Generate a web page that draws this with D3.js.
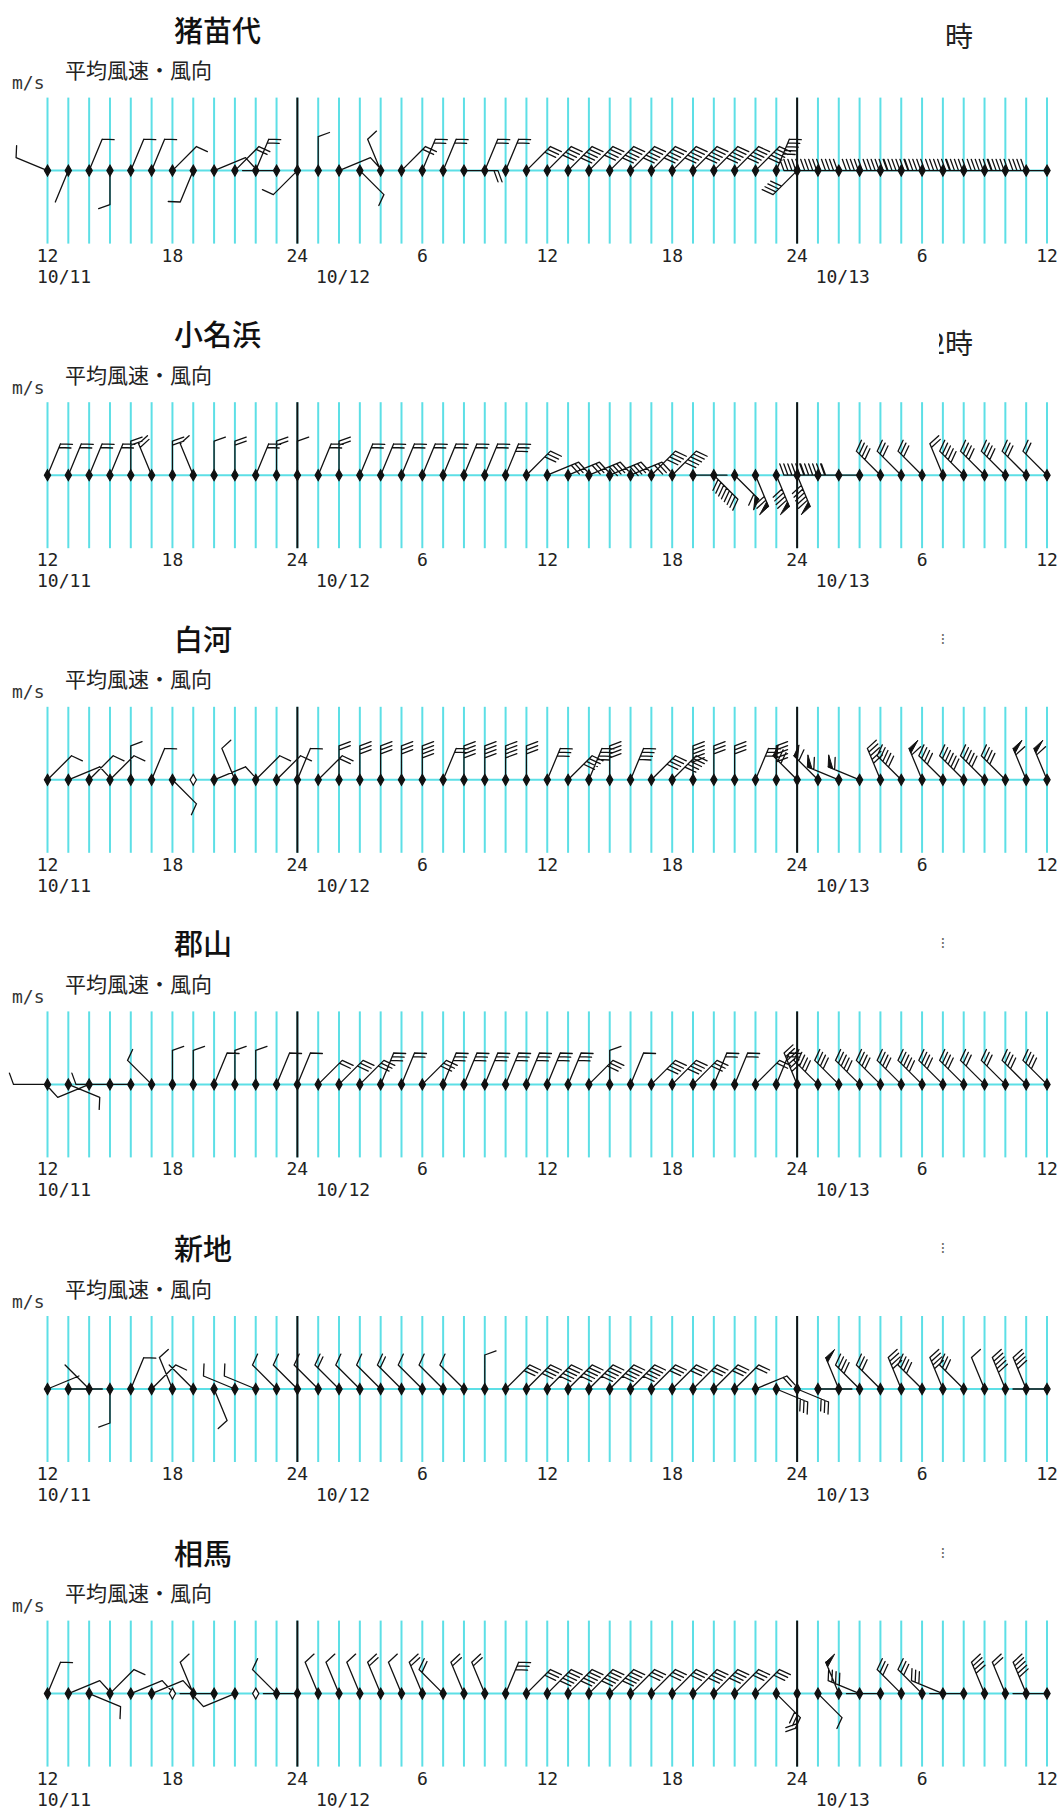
<!DOCTYPE html>
<html><head><meta charset="utf-8">
<script src="https://cdn.jsdelivr.net/npm/d3@7"></script>
<style>html,body{margin:0;padding:0;background:#fff}</style>
</head><body><svg id="chart" width="1062" height="1809"></svg>
<script>
// ---------------- data ----------------
const stations = ["猪苗代","小名浜","白河","郡山","新地","相馬"];
const cornerTexts = ["時","2時","⁝","⁝","⁝","⁝"];
const subTitle = "平均風速・風向";
const unitLabel = "m/s";
const tickHours = [0,6,12,18,24,30,36,42,48];
const tickLabels = ["12","18","24","6","12","18","24","6","12"];
const dayHours = [0,12,36];
const dayLabels = ["10/11","10/12","10/13"];
const midnightHours = [12,36];

// wind direction (16-point, direction wind blows from; "C" = calm) and speed (feathers; 10 = pennant), hourly from 10/11 12時
const dirInawashiro = ["WNW","SSW","NNE","S","NNE","NNE","NE","SSW","ENE","NE","NNE","W","SW","N","ENE","SE","NNW","NE","NNE","NNE","E","NNE","NNE","NE",
  "NE","NE","NE","NE","NE","NE","NE","NE","NE","NE","NE","NNE",
  "SW","W","W","W","W","W","W","W","W","W","W","W","W"];
const spdInawashiro = [1,0,1,1,1,1,1,1,1,2,2,0,1,1,1,1,1,2,2,2,2,2,2,3, 4,5,4,5,5,5,5,5,5,5,5,5, 4,5,5,4,5,6,6,5,6,5,6,5,4];

const dirOnahama = ["NNE","NNE","NNE","NNE","N","NNW","N","NNW","N","N","NNE","N","N","NNE","N","NNE","NNE","NNE","NNE","NNE","NNE","NNE","NNE","NE",
  "ENE","ENE","ENE","ENE","ENE","NE","NE","E","SE","SE","SSE","SSE",
  "SSE","W","W","W","NW","NW","NW","NNW","NW","NW","NW","NW","NW"];
const spdOnahama = [2,2,2,2,2,2,2,1,1,2,2,2,1,2,2,2,2,2,2,2,2,2,3,3, 3,3,4,4,3,4,5,0,8,11,12,14, 15,6,6,1,4,3,3,2,5,4,4,3,2];

const dirShirakawa = ["NE","ENE","NE","NE","N","NNE","SE","C","ENE","NNW","NE","NE","NNE","NE","N","N","N","N","N","NNE","N","N","N","N",
  "NNE","NE","NNE","N","NNE","NE","NE","N","N","N","NNE","N",
  "NW","NW","WNW","WNW","NNW","NW","NNW","NW","NW","NW","NW","NNW","NNW"];
const spdShirakawa = [1,1,1,1,1,1,1,0,1,1,1,1,1,2,2,3,3,3,4,2,4,4,4,3, 3,4,4,4,4,4,5,5,3,3,3,5, 12,11,11,11,5,5,11,4,6,5,4,11,11];

const dirKoriyama = ["W","ESE","WSW","W","W","NW","N","N","NNE","N","N","NNE","NNE","NE","NE","NE","NNE","NNE","NE","NNE","NNE","NNE","NNE","NNE",
  "NNE","NNE","NE","N","NNE","NE","NE","NE","NNE","NNE","NE","NNE",
  "NNW","NW","NW","NW","NW","NW","NW","NW","NW","NW","NW","NW","NW"];
const spdKoriyama = [1,1,1,1,0,1,1,1,1,1,1,1,1,2,3,3,3,2,3,3,3,3,3,3, 3,3,3,1,1,4,4,3,2,2,2,2, 6,5,4,5,4,4,5,4,4,3,3,4,4];

const dirShinchi = ["ENE","E","NW","S","NNE","NE","NNW","NW","SSE","WNW","WNW","NW","NW","NW","NW","NW","NW","NW","NW","NW","NW","N","NE","NE",
  "NE","NE","NE","NE","NE","NE","NE","NE","NE","NE","ENE","ESE",
  "ESE","E","NNW","NW","NW","NNW","NW","NNW","NW","NNW","NNW","NNW","W"];
const spdShinchi = [0,0,0,1,1,1,1,0,1,1,1,1,1,1,2,1,1,2,1,1,1,1,3,4, 5,5,5,5,5,3,3,3,3,2,2,3, 3,0,10,4,3,4,4,4,3,1,5,4,0];

const dirSoma = ["NNE","ENE","ESE","NE","ENE","ENE","C","NNW","W","WSW","C","NW","W","NNW","NNW","NNW","NNW","NNW","NNW","NW","NNW","NNW","NNE","NE",
  "NE","NE","NE","NE","NE","NE","NE","NE","NE","NE","NE","SE",
  "S","SE","NNW","WNW","W","NW","NW","WNW","W","NNW","NNW","NNW","W"];
const spdSoma = [1,1,1,1,1,1,0,1,0,1,0,1,0,1,1,1,2,1,2,2,2,2,3,3, 5,5,5,5,3,3,3,4,4,3,3,3, 2,1,10,4,0,3,3,3,0,4,2,5,0];

const windDirs = [dirInawashiro, dirOnahama, dirShirakawa, dirKoriyama, dirShinchi, dirSoma];
const windSpds = [spdInawashiro, spdOnahama, spdShirakawa, spdKoriyama, spdShinchi, spdSoma];
const compass = ["N","NNE","NE","ENE","E","ESE","SE","SSE","S","SSW","SW","WSW","W","WNW","NW","NNW"];

// ---------------- drawing ----------------
const svg = d3.select("#chart");
svg.append("rect").attr("width",1062).attr("height",1809).attr("fill","#fff");
const defs = svg.append("defs");

const x = d3.scaleLinear().domain([0,48]).range([47.5,1047]);
const panelY = d3.scaleLinear().domain([0,5]).range([170.6, 170.6+5*304.6]);
const angle = d3.scaleOrdinal().domain(compass).range(compass.map((c,i)=>i*22.5));

const CYAN = "#5ddfe6";
const L = 34, F = 12, GAP = 4, PW = 5, ALPHA = 70;

function barb(x0,y0,dirDeg,spd){
  const t = dirDeg*Math.PI/180;
  const ux = Math.sin(t), uy = -Math.cos(t);
  const a = (dirDeg+ALPHA)*Math.PI/180;
  const fx = Math.sin(a), fy = -Math.cos(a);
  const tx = x0+ux*L, ty = y0+uy*L;
  let line = `M${x0},${y0}L${tx},${ty}`;
  let tri = "";
  let s = 0, n = spd;
  while(n >= 10){
    const p1x = tx-ux*s, p1y = ty-uy*s;
    const p3x = tx-ux*(s+PW), p3y = ty-uy*(s+PW);
    tri += `M${p1x},${p1y}L${p1x+fx*F},${p1y+fy*F}L${p3x},${p3y}Z`;
    s += PW+2; n -= 10;
  }
  for(let k=0;k<n;k++){
    const px = tx-ux*s, py = ty-uy*s;
    line += `M${px},${py}L${px+fx*F},${py+fy*F}`;
    s += GAP;
  }
  return {line, tri};
}

stations.forEach((name,i)=>{
  const Y = panelY(i);
  const g = svg.append("g");
  const hours = windDirs[i].map((d,k)=>k);

  // titles
  g.append("text").attr("x",174).attr("y",Y-142).attr("dominant-baseline","central")
    .attr("font-family","'Noto Sans CJK JP'").attr("font-size",29).attr("font-weight",500)
    .attr("fill","#111").text(name);
  if(i < 2){
    const cid = "clipc"+i;
    defs.append("clipPath").attr("id",cid).append("rect")
      .attr("x",939).attr("y",Y-170).attr("width",60).attr("height",60);
    g.append("text").attr("x",973).attr("y",i===0 ? Y-136 : Y-133).attr("dominant-baseline","central")
      .attr("text-anchor","end").attr("clip-path",`url(#${cid})`)
      .attr("font-family","'Noto Sans CJK JP'").attr("font-size",28).attr("fill","#222")
      .text(cornerTexts[i]);
  } else {
    g.append("text").attr("x",943).attr("y",Y-140).attr("dominant-baseline","central")
      .attr("text-anchor","middle")
      .attr("font-family","'DejaVu Sans'").attr("font-size",15).attr("fill","#666")
      .text(cornerTexts[i]);
  }
  g.append("text").attr("x",65).attr("y",Y-101.5).attr("dominant-baseline","central")
    .attr("font-family","'Noto Sans CJK JP'").attr("font-size",21).attr("fill","#222")
    .text(subTitle);
  g.append("text").attr("x",12).attr("y",Y-88).attr("dominant-baseline","central")
    .attr("font-family","'DejaVu Sans Mono'").attr("font-size",18).attr("fill","#333")
    .text(unitLabel);

  // grid
  g.selectAll("line.v").data(hours).enter().append("line")
    .attr("x1",d=>x(d)).attr("x2",d=>x(d)).attr("y1",Y-73).attr("y2",Y+73)
    .attr("stroke",CYAN).attr("stroke-width",2);
  g.append("line").attr("x1",x(0)).attr("x2",x(48)).attr("y1",Y).attr("y2",Y)
    .attr("stroke",CYAN).attr("stroke-width",2);
  g.selectAll("line.m").data(midnightHours).enter().append("line")
    .attr("x1",d=>x(d)).attr("x2",d=>x(d)).attr("y1",Y-73).attr("y2",Y+73)
    .attr("stroke","#111").attr("stroke-width",2);

  // axis labels
  g.selectAll("text.tick").data(tickHours).enter().append("text")
    .attr("x",d=>x(d)).attr("y",Y+91).attr("text-anchor","middle")
    .attr("font-family","'DejaVu Sans Mono'").attr("font-size",18).attr("fill","#222")
    .text((d,k)=>tickLabels[k]);
  g.selectAll("text.day").data(dayHours).enter().append("text")
    .attr("x",d=> d===0 ? x(d)-10.5 : x(d)+18.5).attr("y",Y+112)
    .attr("font-family","'DejaVu Sans Mono'").attr("font-size",18).attr("fill","#222")
    .text((d,k)=>dayLabels[k]);

  // barbs
  let lines = "", tris = "";
  hours.forEach(k=>{
    const d = windDirs[i][k];
    if(d === "C") return;
    const b = barb(x(k), Y, angle(d), windSpds[i][k]);
    lines += b.line; tris += b.tri;
  });
  g.append("path").attr("d",lines).attr("fill","none").attr("stroke","#111")
    .attr("stroke-width",1.3).attr("stroke-linecap","round");
  g.append("path").attr("d",tris).attr("fill","#111").attr("stroke","#111").attr("stroke-width",1);

  // station dots
  const diamond = d3.symbol().type(d3.symbolDiamond).size(34);
  g.selectAll("path.dot").data(hours).enter().append("path")
    .attr("transform",k=>`translate(${x(k)},${Y})`)
    .attr("d",diamond)
    .attr("fill",k=> windDirs[i][k]==="C" ? "#fff" : "#111")
    .attr("stroke","#111").attr("stroke-width",1.2);
});
</script>
</body></html>
